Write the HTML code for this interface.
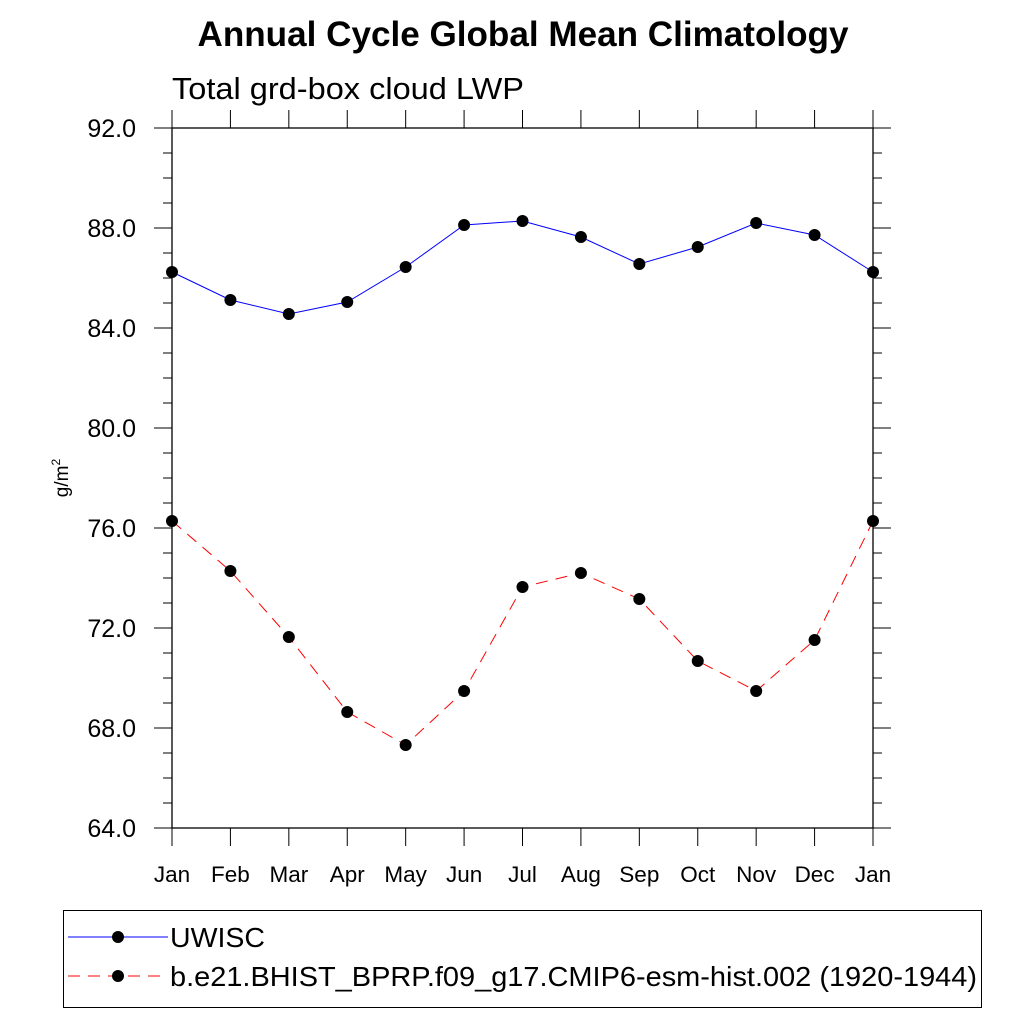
<!DOCTYPE html>
<html><head><meta charset="utf-8"><style>
body{margin:0;background:#fff}
svg text{font-family:"Liberation Sans",sans-serif}
</style></head><body>
<svg id="chart" width="1024" height="1024" xmlns="http://www.w3.org/2000/svg">
<text x="523" y="46" text-anchor="middle" font-size="35" font-weight="bold" textLength="651" lengthAdjust="spacingAndGlyphs">Annual Cycle Global Mean Climatology</text>
<text x="172" y="99" font-size="31" textLength="352" lengthAdjust="spacingAndGlyphs">Total grd-box cloud LWP</text>
<text transform="translate(68,478) rotate(-90)" text-anchor="middle" font-size="19">g/m<tspan dy="-8" font-size="12">2</tspan></text>
<g id="axes"></g>
<g id="marks"></g>
<rect x="63.5" y="910.5" width="918" height="97" fill="none" stroke="#000" stroke-width="1"/>
<line x1="68" y1="937" x2="168" y2="937" stroke="#0000ff" stroke-width="1"/>
<circle cx="118" cy="937" r="6"/>
<text x="170" y="947" font-size="28" textLength="95" lengthAdjust="spacingAndGlyphs">UWISC</text>
<line x1="68" y1="976" x2="168" y2="976" stroke="#ff0000" stroke-width="1" stroke-dasharray="12,8"/>
<circle cx="118" cy="976" r="6"/>
<text x="170" y="986" font-size="28" textLength="807" lengthAdjust="spacingAndGlyphs">b.e21.BHIST_BPRP.f09_g17.CMIP6-esm-hist.002 (1920-1944)</text>
</svg>
<script>
const months=["Jan","Feb","Mar","Apr","May","Jun","Jul","Aug","Sep","Oct","Nov","Dec","Jan"];
const uwisc=[86.24,85.12,84.56,85.04,86.44,88.12,88.28,87.64,86.56,87.24,88.2,87.72,86.24];
const model=[76.28,74.28,71.64,68.64,67.32,69.48,73.64,74.2,73.16,70.68,69.48,71.52,76.28];
const yTicks=[64,68,72,76,80,84,88,92];
const NS="http://www.w3.org/2000/svg";
const L=172,R=873,T=128,B=828,yMin=64,yMax=92;
function xs(i){return L+(R-L)*i/(months.length-1);}
function ys(v){return B-(v-yMin)/(yMax-yMin)*(B-T);}
function mk(tag,attrs,parent){const e=document.createElementNS(NS,tag);for(const k in attrs)e.setAttribute(k,attrs[k]);parent.appendChild(e);return e;}
const ax=document.getElementById('axes'),mg=document.getElementById('marks');
let f=mk('rect',{x:L,y:T,width:R-L,height:B-T,fill:'none',stroke:'#000','stroke-width':1.3},ax);


for(let v=yMin;v<=yMax;v+=1){
  const y=ys(v),maj=(v-yMin)%4===0,len=maj?18:9;
  let t1=mk('line',{x1:L-len,y1:y,x2:L,y2:y,stroke:'#000','stroke-width':1},ax);
  
  
  let t2=mk('line',{x1:R,y1:y,x2:R+len,y2:y,stroke:'#000','stroke-width':1},ax);
  
  
}
yTicks.forEach(v=>{
  let t=mk('text',{x:136,y:ys(v)+9,'text-anchor':'end','font-size':25},ax);
  t.textContent=v.toFixed(1);
  
  
});
months.forEach((m,i)=>{
  const x=xs(i);
  let a=mk('line',{x1:x,y1:B,x2:x,y2:B+18,stroke:'#000','stroke-width':1},ax);
  
  
  let b=mk('line',{x1:x,y1:T-18,x2:x,y2:T,stroke:'#000','stroke-width':1},ax);
  
  
  let t=mk('text',{x:x,y:882,'text-anchor':'middle','font-size':22.5},ax);
  t.textContent=m;
  
  
});
function series(vals,color,dash,name){
  const pts=vals.map((v,i)=>xs(i)+','+ys(v)).join(' ');
  let p=mk('polyline',{points:pts,fill:'none',stroke:color,'stroke-width':1,'stroke-dasharray':dash},mg);
  
  
  vals.forEach((v,i)=>{
    let c=mk('circle',{cx:xs(i),cy:ys(v),r:6,fill:'#000'},mg);
    
    
  });
}
series(uwisc,'#0000ff','none','uwisc');
series(model,'#ff0000','12,8','model');
</script>
</body></html>
